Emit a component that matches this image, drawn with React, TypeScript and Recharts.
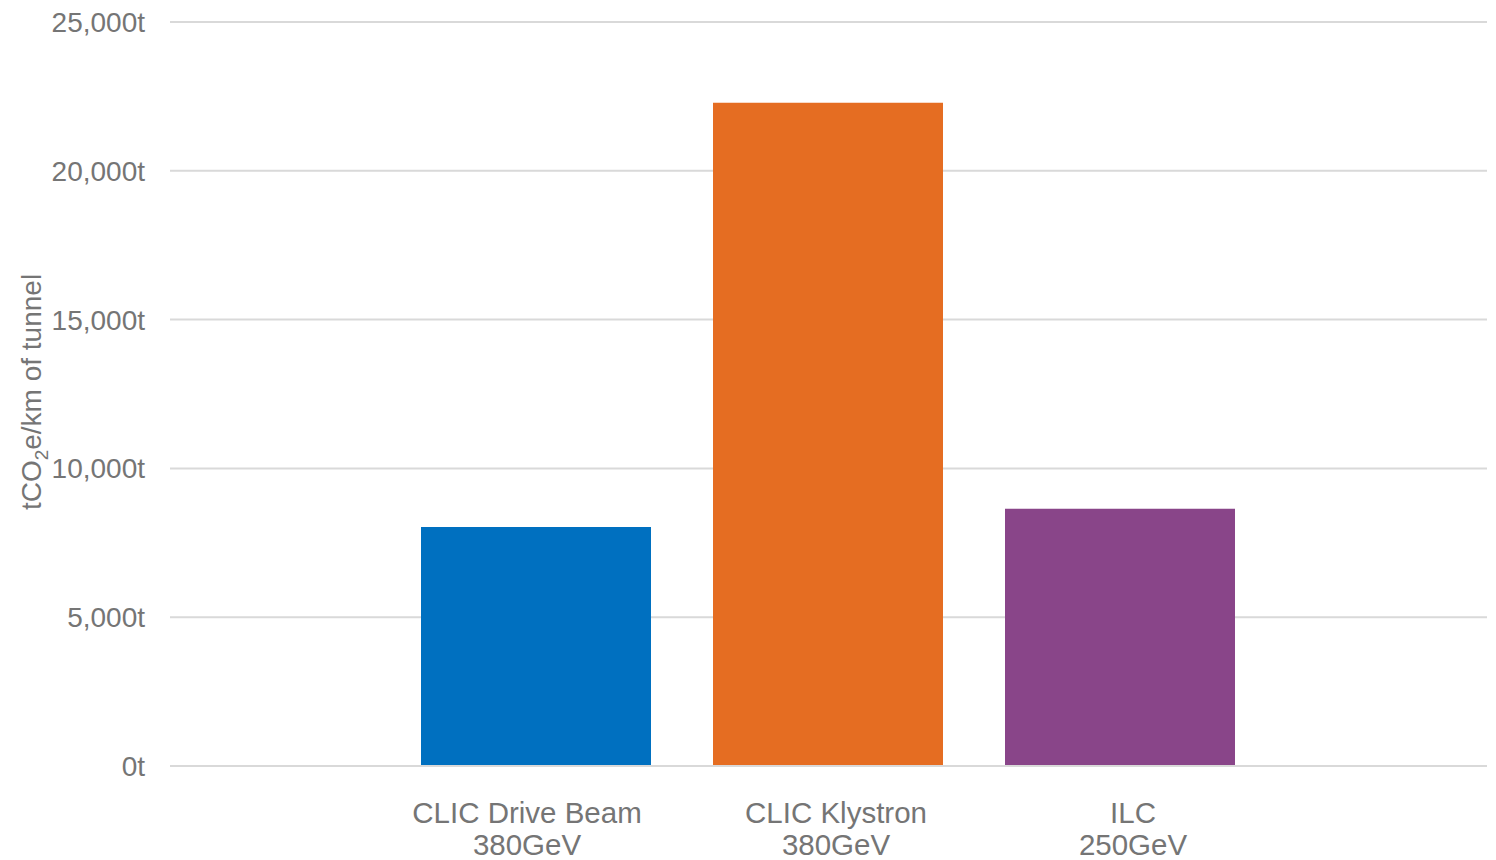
import React from "react";
import { BarChart, Bar, XAxis, YAxis, CartesianGrid, Cell } from "recharts";

// Embodied carbon per km of tunnel
const machines = ["CLIC Drive Beam", "CLIC Klystron", "ILC"];
const energies = ["380GeV", "380GeV", "250GeV"];
const emissions = [8030, 22290, 8640];
const yTicks = [0, 5000, 10000, 15000, 20000, 25000];

const barColors = ["#0070C0", "#E56D22", "#894589"];
const labelShift = [-9, 8, 13];

const data = machines.map((name, i) => ({ name, energy: energies[i], value: emissions[i] }));

const FONT = "'Liberation Sans', Arial, sans-serif";
const TEXT = "#757575";

function MachineTick(props: any) {
  const { x, y, payload, index } = props;
  const cx = x + (labelShift[index] ?? 0);
  return (
    <text x={cx} y={y} textAnchor="middle" fill={TEXT} fontSize={29.5} fontFamily={FONT}>
      <tspan x={cx} dy={57}>{payload.value}</tspan>
      <tspan x={cx} dy={32}>{energies[index]}</tspan>
    </text>
  );
}

function UnitLabel() {
  return (
    <text
      transform="translate(41, 392) rotate(-90)"
      textAnchor="middle"
      fill={TEXT}
      fontSize={28}
      fontFamily={FONT}
    >
      tCO
      <tspan fontSize={19} dy={7}>2</tspan>
      <tspan dy={-7}>e/km of tunnel</tspan>
    </text>
  );
}

export default function App() {
  return (
    <div style={{ position: "absolute", left: 0, top: 0, background: "#fff" }}>
      <BarChart
        width={1496}
        height={860}
        data={data}
        margin={{ top: 22, right: 9, bottom: 4, left: 0 }}
        barSize={230}
      >
        <CartesianGrid vertical={false} stroke="#D9D9D9" strokeWidth={2} />
        <XAxis
          dataKey="name"
          axisLine={{ stroke: "#D9D9D9", strokeWidth: 2 }}
          tickLine={false}
          tickSize={0}
          tickMargin={0}
          height={90}
          interval={0}
          padding={{ left: 220, right: 221 }}
          tick={<MachineTick />}
        />
        <YAxis
          width={170}
          domain={[0, 25000]}
          ticks={yTicks}
          axisLine={false}
          tickLine={false}
          tickSize={0}
          tickMargin={25}
          tick={{ fill: TEXT, fontSize: 28, fontFamily: FONT }}
          tickFormatter={(v: number) => v.toLocaleString("en-US") + "t"}
          label={<UnitLabel />}
        />
        <Bar dataKey="value" isAnimationActive={false}>
          {data.map((d, i) => (
            <Cell key={d.name} fill={barColors[i]} />
          ))}
        </Bar>
      </BarChart>
    </div>
  );
}
